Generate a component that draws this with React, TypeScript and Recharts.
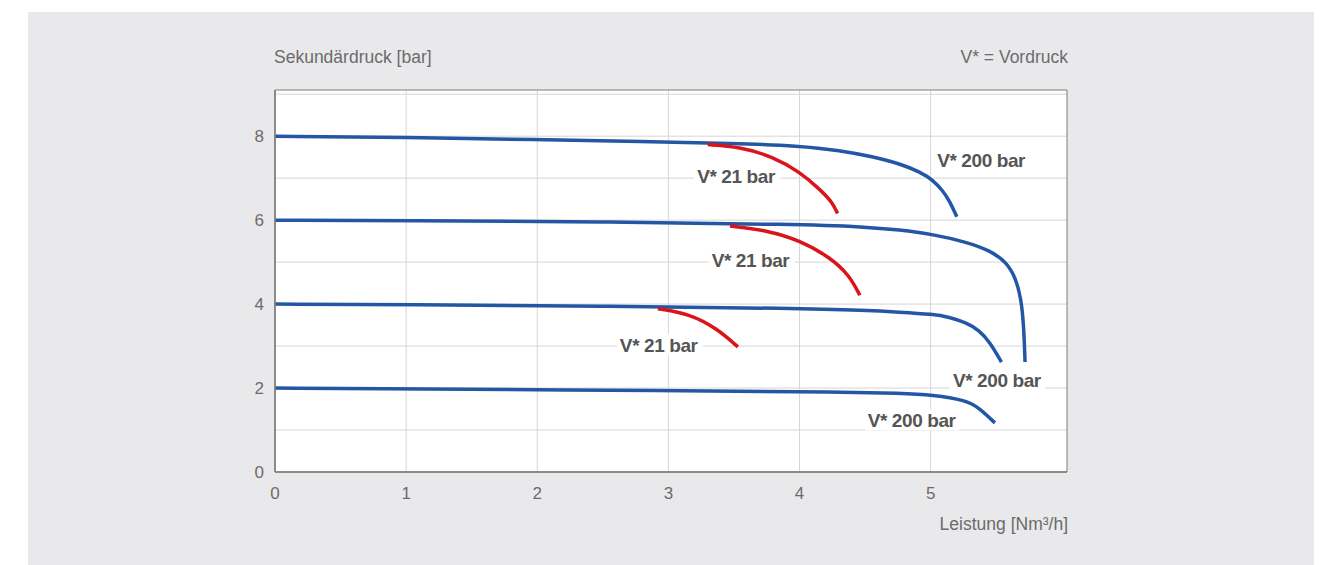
import React from 'react';
import {
    CartesianGrid,
    Line,
    LineChart,
    ReferenceArea,
    ReferenceDot,
    XAxis,
    YAxis,
} from 'recharts';

// curves: Leistung [Nm³/h] -> Sekundärdruck [bar]
const blue8X = [0, 1, 2, 2.8, 3.5, 4.0, 4.31, 4.56, 4.76, 4.92, 5.02, 5.09, 5.14, 5.2];
const blue8Y = [8.0, 7.97, 7.92, 7.87, 7.83, 7.77, 7.66, 7.51, 7.35, 7.15, 6.95, 6.71, 6.48, 6.08];
const red8X = [3.3, 3.54, 3.8, 4.0, 4.15, 4.25, 4.29];
const red8Y = [7.8, 7.75, 7.51, 7.15, 6.75, 6.43, 6.16];

const blue6X = [0, 1, 2.48, 4.0, 4.5, 4.76, 5.02, 5.27, 5.45, 5.58, 5.65, 5.69, 5.71, 5.72];
const blue6Y = [6.0, 5.99, 5.96, 5.9, 5.84, 5.77, 5.66, 5.48, 5.28, 5.0, 4.61, 4.13, 3.5, 2.62];
const red6X = [3.47, 3.75, 4.0, 4.23, 4.38, 4.46];
const red6Y = [5.86, 5.76, 5.52, 5.12, 4.69, 4.21];

const blue4X = [0, 1, 2.48, 4.0, 4.5, 4.76, 5.02, 5.14, 5.27, 5.37, 5.45, 5.54];
const blue4Y = [4.0, 3.99, 3.95, 3.9, 3.85, 3.81, 3.76, 3.69, 3.56, 3.38, 3.1, 2.62];
const red4X = [2.92, 3.16, 3.37, 3.53];
const red4Y = [3.89, 3.77, 3.42, 2.98];

const blue2X = [0, 1, 3, 4.38, 4.76, 5.02, 5.27, 5.37, 5.49];
const blue2Y = [2.0, 1.98, 1.94, 1.9, 1.88, 1.84, 1.71, 1.53, 1.17];

const xTicks = [0, 1, 2, 3, 4, 5];
const yTicks = [0, 2, 4, 6, 8];

const labelText = ['V* 200 bar', 'V* 21 bar', 'V* 21 bar', 'V* 21 bar', 'V* 200 bar', 'V* 200 bar'];
const labelX = [5.05, 3.22, 3.33, 2.63, 5.17, 4.52];
const labelY = [7.43, 7.05, 5.04, 3.02, 2.19, 1.23];

const zip = (xs: number[], ys: number[]) => xs.map((x, i) => ({ x, y: ys[i] }));

const series = [
    { key: 'b8', data: zip(blue8X, blue8Y), color: '#2357a5' },
    { key: 'r8', data: zip(red8X, red8Y), color: '#d9141b' },
    { key: 'b6', data: zip(blue6X, blue6Y), color: '#2357a5' },
    { key: 'r6', data: zip(red6X, red6Y), color: '#d9141b' },
    { key: 'b4', data: zip(blue4X, blue4Y), color: '#2357a5' },
    { key: 'r4', data: zip(red4X, red4Y), color: '#d9141b' },
    { key: 'b2', data: zip(blue2X, blue2Y), color: '#2357a5' },
];

const labels = labelText.map((t, i) => ({ t, x: labelX[i], y: labelY[i] }));

const font = '"Liberation Sans", Arial, sans-serif';

const CurveLabel = (text: string) => (p: any) => {
    const w = text.length * 8.9;
    return (
        <g>
            <rect x={p.cx - 3} y={p.cy - 11} width={w + 6} height={21} fill="#fff" />
            <text
                x={p.cx}
                y={p.cy + 7}
                fill="#555"
                fontSize={19}
                fontWeight="bold"
                fontFamily={font}
                letterSpacing={-0.4}
            >
                {text}
            </text>
        </g>
    );
};

const titleStyle: React.CSSProperties = {
    position: 'absolute',
    fontFamily: font,
    fontSize: 17.5,
    color: '#6b6b6b',
    whiteSpace: 'nowrap',
};

const App = () => {
    return (
        <div style={{ position: 'absolute', left: 0, top: 0, width: 1338, height: 565 }}>
            <div
                style={{
                    position: 'absolute',
                    left: 28,
                    top: 12,
                    width: 1286,
                    height: 553,
                    background: '#e9e9eb',
                }}
            />
            <div style={{ ...titleStyle, left: 274, top: 47 }}>Sekundärdruck [bar]</div>
            <div style={{ ...titleStyle, right: 1338 - 1068, top: 47 }}>V* = Vordruck</div>
            <div style={{ ...titleStyle, right: 1338 - 1068, top: 514 }}>Leistung [Nm³/h]</div>
            <div style={{ position: 'absolute', left: 0, top: 0 }}>
                <LineChart
                    width={1338}
                    height={565}
                    margin={{ top: 90, right: 271, bottom: 63, left: 245 }}
                >
                    <CartesianGrid
                        stroke="#d6d6d6"
                        fill="#fff"
                        fillOpacity={1}
                        horizontalValues={[1, 2, 3, 4, 5, 6, 7, 8, 9]}
                        verticalValues={[1, 2, 3, 4, 5]}
                    />
                    <XAxis
                        type="number"
                        dataKey="x"
                        domain={[0, 6.04]}
                        ticks={xTicks}
                        allowDataOverflow
                        height={30}
                        tickLine={false}
                        tickSize={0}
                        tickMargin={15}
                        axisLine={{ stroke: '#7d7d7d', strokeWidth: 1.5 }}
                        tick={{ fill: '#6b6b6b', fontSize: 17, fontFamily: font }}
                    />
                    <YAxis
                        type="number"
                        dataKey="y"
                        domain={[0, 9.1]}
                        ticks={yTicks}
                        allowDataOverflow
                        width={30}
                        tickLine={false}
                        tickSize={0}
                        tickMargin={11}
                        axisLine={{ stroke: '#7d7d7d', strokeWidth: 1.5 }}
                        tick={{ fill: '#6b6b6b', fontSize: 17, fontFamily: font }}
                    />
                    <ReferenceArea
                        x1={0}
                        x2={6.04}
                        y1={0}
                        y2={9.1}
                        fill="none"
                        stroke="#7d7d7d"
                        strokeWidth={1}
                    />
                    {labels.map((l, i) => (
                        <ReferenceDot
                            key={'l' + i}
                            x={l.x}
                            y={l.y}
                            r={1}
                            shape={CurveLabel(l.t)}
                        />
                    ))}
                    {series.map((s) => (
                        <Line
                            key={s.key}
                            data={s.data}
                            dataKey="y"
                            type="basis"
                            stroke={s.color}
                            strokeWidth={3.5}
                            dot={false}
                            activeDot={false}
                            isAnimationActive={false}
                        />
                    ))}
                </LineChart>
            </div>
        </div>
    );
};

export default App;
